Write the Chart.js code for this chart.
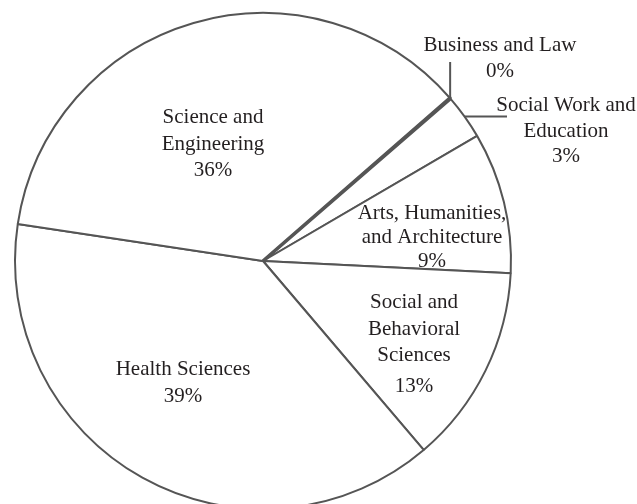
<!DOCTYPE html>
<html>
<head>
<meta charset="utf-8">
<script src="https://cdn.jsdelivr.net/npm/chart.js@4.4.1/dist/chart.umd.min.js"></script>
<style>
  html, body { margin: 0; padding: 0; background: #fff; overflow: hidden; }
  #wrap { width: 637px; height: 520px; position: relative; }
</style>
</head>
<body>
<div id="wrap"><canvas id="pie"></canvas></div>
<script>
// slices in clockwise order, starting just past the Business and Law sliver
// (the sliver goes last so its heavier outline is drawn on top)
const categories = ['Social Work and Education', 'Arts, Humanities, and Architecture', 'Social and Behavioral Sciences', 'Health Sciences', 'Science and Engineering', 'Business and Law'];
const shares = [2.95, 9.2, 13.0, 38.6, 36.2, 0.05];
const percentLabels = ['3%', '9%', '13%', '39%', '36%', '0%'];
const labelLines = [
  ['Social Work and', 'Education'],
  ['Arts, Humanities,', 'and Architecture'],
  ['Social and', 'Behavioral', 'Sciences'],
  ['Health Sciences'],
  ['Science and', 'Engineering'],
  ['Business and Law']
];

// where each label block sits (x centre, first baseline, line step, gap before %)
const labelPos = [
  { x: 566, y: 111, step: 26, pctGap: 25 },
  { x: 432, y: 219, step: 24, pctGap: 24 },
  { x: 414, y: 308, step: 26.5, pctGap: 31 },
  { x: 183, y: 375, step: 26, pctGap: 27 },
  { x: 213, y: 123, step: 27, pctGap: 26 },
  { x: 500, y: 51, step: 26, pctGap: 26 }
];
// leader lines going out from the rim of a slice
const leaders = [
  { i: 5, toX: 451, toY: 62, vertical: true },
  { i: 0, toX: 507, toY: 119, vertical: false }
];

const lineColor = '#555';
const textColor = '#231f20';
const font = '21px "Liberation Serif", "Times New Roman", serif';

const labelPlugin = {
  id: 'labels',
  afterDraw(chart) {
    const ctx = chart.ctx;
    const arcs = chart.getDatasetMeta(0).data;
    ctx.save();
    ctx.strokeStyle = lineColor;
    ctx.lineWidth = 2;
    leaders.forEach(l => {
      const a = arcs[l.i];
      const mid = (a.startAngle + a.endAngle) / 2;
      const rx = a.x + Math.cos(mid) * a.outerRadius;
      const ry = a.y + Math.sin(mid) * a.outerRadius;
      ctx.beginPath();
      ctx.moveTo(rx, ry);
      if (l.vertical) ctx.lineTo(rx, l.toY);
      else ctx.lineTo(l.toX, ry);
      ctx.stroke();
    });
    ctx.fillStyle = textColor;
    ctx.font = font;
    ctx.textAlign = 'center';
    ctx.textBaseline = 'alphabetic';
    labelLines.forEach((lines, i) => {
      const p = labelPos[i];
      lines.forEach((t, j) => ctx.fillText(t, p.x, p.y + j * p.step));
      const lastY = p.y + (lines.length - 1) * p.step;
      ctx.fillText(percentLabels[i], p.x, lastY + p.pctGap);
    });
    ctx.restore();
  }
};

new Chart(document.getElementById('pie'), {
  type: 'pie',
  data: {
    labels: categories,
    datasets: [{
      data: shares,
      backgroundColor: '#ffffff',
      borderColor: lineColor,
      borderWidth: [2, 2, 2, 2, 2, 3.5],
      radius: 248
    }]
  },
  options: {
    responsive: true,
    maintainAspectRatio: false,
    animation: false,
    events: [],
    rotation: 49.08,
    layout: { padding: { left: 15, right: 126, top: 13, bottom: 11 } },
    plugins: { legend: { display: false }, tooltip: { enabled: false } }
  },
  plugins: [labelPlugin]
});
</script>
</body>
</html>
